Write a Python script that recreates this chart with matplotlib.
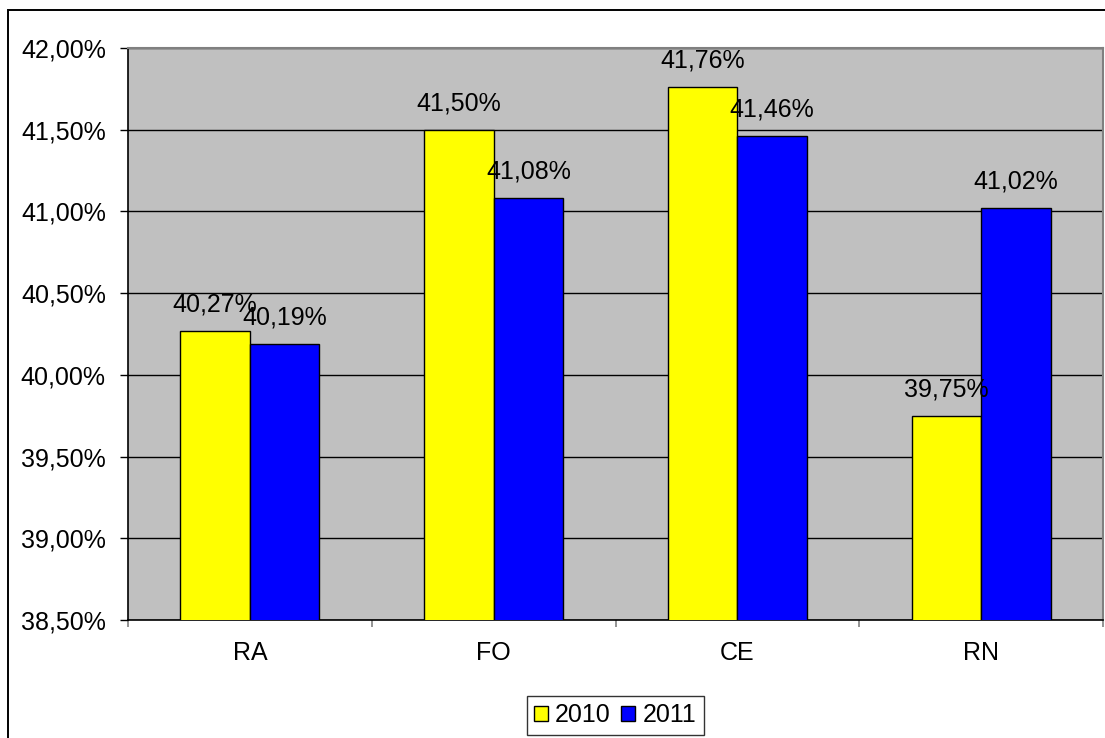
import matplotlib
matplotlib.use("Agg")
import matplotlib.pyplot as plt
from matplotlib.patches import Rectangle
from matplotlib.ticker import FuncFormatter
import numpy as np

plt.rcParams["font.family"] = ["Liberation Sans", "DejaVu Sans"]

categories = ["RA", "FO", "CE", "RN"]
series_names = ["2010", "2011"]
values_2010 = [40.27, 41.50, 41.76, 39.75]
values_2011 = [40.19, 41.08, 41.46, 41.02]
y_ticks = [38.5, 39.0, 39.5, 40.0, 40.5, 41.0, 41.5, 42.0]

FS = 18


def pct(v):
    return f"{v:.2f}%".replace(".", ",")


fig = plt.figure(figsize=(11.05, 7.38), dpi=100, facecolor="white")
ax = fig.add_axes([128 / 1105, 1 - 620 / 738, (1103 - 128) / 1105, (620 - 48) / 738])
ax.set_facecolor("#C0C0C0")

# chart frame (left and top edges show, the rest runs off the canvas)
fig.patches.append(Rectangle((8 / 1105, -0.1), 1.2, 1.1 - 10 / 738,
                             transform=fig.transFigure, fill=False,
                             edgecolor="#000000", linewidth=1.4, zorder=0))

x = np.arange(len(categories))
w = 0.285
bars_a = ax.bar(x - w / 2, values_2010, w, color="#FFFF00", edgecolor="black",
                linewidth=1.0, label=series_names[0], zorder=3)
bars_b = ax.bar(x + w / 2, values_2011, w, color="#0000FF", edgecolor="black",
                linewidth=1.0, label=series_names[1], zorder=3)

for bars, vals in ((bars_a, values_2010), (bars_b, values_2011)):
    for b, v in zip(bars, vals):
        ax.annotate(pct(v), (b.get_x() + b.get_width() / 2, v),
                    xytext=(0, 10.5), textcoords="offset points",
                    ha="center", va="bottom", fontsize=FS, zorder=5)

ax.set_ylim(38.5, 42.0)
ax.set_xlim(-0.5, len(categories) - 0.5)
ax.set_yticks(y_ticks)
ax.yaxis.set_major_formatter(FuncFormatter(lambda v, _: pct(v)))
ax.yaxis.grid(True, color="black", linewidth=1.0, zorder=1)
ax.set_axisbelow(True)

ax.set_xticks(x)
ax.set_xticklabels(categories)
ax.set_xticks(np.arange(len(categories) + 1) - 0.5, minor=True)
ax.tick_params(axis="x", which="major", length=0, pad=15, labelsize=FS)
ax.tick_params(axis="x", which="minor", length=5, color="#808080", width=1.2)
ax.tick_params(axis="y", length=6, width=1.0, pad=10, labelsize=FS)

for side in ("left", "bottom"):
    ax.spines[side].set_color("black")
    ax.spines[side].set_linewidth(1.2)
for side in ("top", "right"):
    ax.spines[side].set_color("#808080")
    ax.spines[side].set_linewidth(1.5)

leg = ax.legend(loc="upper center", bbox_to_anchor=(615 / 1105, 1 - 696 / 738),
                bbox_transform=fig.transFigure, ncol=2, fontsize=FS,
                frameon=True, fancybox=False, shadow=False,
                handlelength=0.55, handleheight=0.55, handletextpad=0.3,
                columnspacing=0.4, borderpad=0.3, borderaxespad=0)
leg.get_frame().set_edgecolor("black")
leg.get_frame().set_linewidth(1.0)

fig.savefig("out.png", dpi=100, facecolor="white")
